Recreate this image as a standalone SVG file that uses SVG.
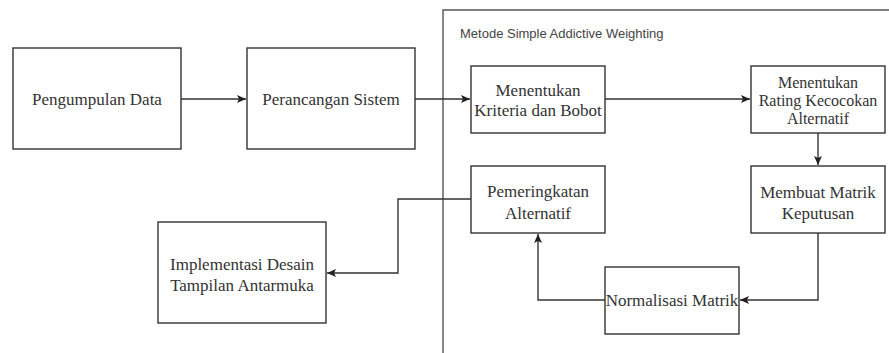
<svg xmlns="http://www.w3.org/2000/svg" width="889" height="353" viewBox="0 0 889 353">
<style>
.box{fill:#fff;stroke:#333;stroke-width:1.4}
.t{font-family:"Liberation Serif","Times New Roman",serif;font-size:17px;fill:#333;text-anchor:middle}
.t16{font-size:16px}
.c{fill:none;stroke:#333;stroke-width:1.4}
.title{font-family:"Liberation Sans",Arial,sans-serif;font-size:13px;fill:#444}
</style>
<defs>
<marker id="ah" markerWidth="10" markerHeight="10" refX="9" refY="4" orient="auto" markerUnits="userSpaceOnUse">
<path d="M0,0 L9,4 L0,8 L2,4 Z" fill="#222"/>
</marker>
</defs>
<g id="container">
<path d="M443,353 L443,10 L889,10" fill="none" stroke="#555" stroke-width="1.4"/>
<text class="title" x="460" y="37.5">Metode Simple Addictive Weighting</text>
</g>
<g id="connectors">
<path class="c" d="M181,99 L246,99" marker-end="url(#ah)"/>
<path class="c" d="M415,99 L470,99" marker-end="url(#ah)"/>
<path class="c" d="M605,99 L750,99" marker-end="url(#ah)"/>
<path class="c" d="M818,133 L818,165" marker-end="url(#ah)"/>
<path class="c" d="M818,233 L818,300 L740,300" marker-end="url(#ah)"/>
<path class="c" d="M605,300 L538,300 L538,234" marker-end="url(#ah)"/>
<path class="c" d="M471,199 L398,199 L398,273 L327,273" marker-end="url(#ah)"/>
</g>
<g id="n1"><rect class="box" x="13" y="48" width="168" height="101"/><text class="t" x="97" y="105">Pengumpulan Data</text></g>
<g id="n2"><rect class="box" x="247" y="48" width="168" height="101"/><text class="t" x="331" y="105">Perancangan Sistem</text></g>
<g id="n3"><rect class="box" x="471" y="66" width="134" height="67"/><text class="t" x="538" y="96">Menentukan</text><text class="t" x="538" y="116">Kriteria dan Bobot</text></g>
<g id="n4"><rect class="box" x="751" y="66" width="134" height="67"/><text class="t t16" x="818" y="87.5">Menentukan</text><text class="t t16" x="818" y="105.5">Rating Kecocokan</text><text class="t t16" x="818" y="123.5">Alternatif</text></g>
<g id="n5"><rect class="box" x="751" y="166" width="134" height="67"/><text class="t" x="818" y="197.5">Membuat Matrik</text><text class="t" x="818" y="218.5">Keputusan</text></g>
<g id="n6"><rect class="box" x="471" y="166" width="134" height="67"/><text class="t" x="538" y="196.5">Pemeringkatan</text><text class="t" x="538" y="218.5">Alternatif</text></g>
<g id="n7"><rect class="box" x="605" y="267" width="134" height="67"/><text class="t" x="672" y="306">Normalisasi Matrik</text></g>
<g id="n8"><rect class="box" x="158" y="222" width="168" height="101"/><text class="t" x="242" y="270">Implementasi Desain</text><text class="t" x="242" y="291">Tampilan Antarmuka</text></g>
</svg>
